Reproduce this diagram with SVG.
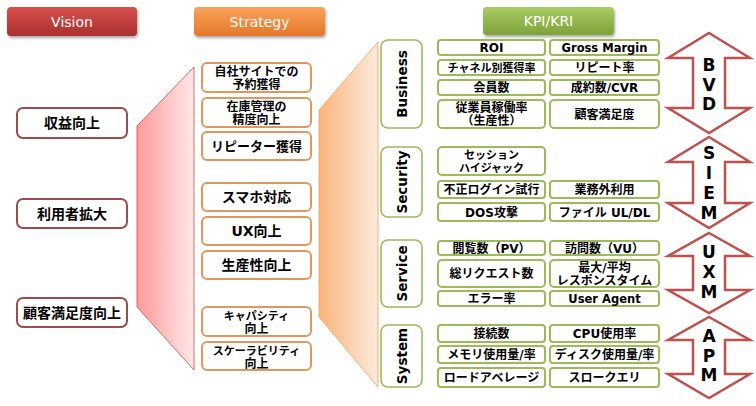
<svg xmlns="http://www.w3.org/2000/svg" width="756" height="406" viewBox="0 0 756 406">
<defs>
<linearGradient id="gRed" x1="0" y1="0" x2="0" y2="1"><stop offset="0" stop-color="#d9504c"/><stop offset="1" stop-color="#a8302e"/></linearGradient>
<linearGradient id="gOrg" x1="0" y1="0" x2="0" y2="1"><stop offset="0" stop-color="#fba25a"/><stop offset="1" stop-color="#e4782a"/></linearGradient>
<linearGradient id="gGrn" x1="0" y1="0" x2="0" y2="1"><stop offset="0" stop-color="#a9cc62"/><stop offset="1" stop-color="#7ea23a"/></linearGradient>
<linearGradient id="bandRed" x1="0" y1="0" x2="1" y2="0"><stop offset="0" stop-color="#ff9a9a"/><stop offset="1" stop-color="#ffe8e8"/></linearGradient>
<linearGradient id="bandOrg" x1="0" y1="0" x2="1" y2="0"><stop offset="0" stop-color="#fbb57c"/><stop offset="1" stop-color="#fdeadb"/></linearGradient>
<filter id="sh" x="-10%" y="-20%" width="120%" height="160%"><feDropShadow dx="1" dy="2" stdDeviation="1.5" flood-color="#000" flood-opacity="0.35"/></filter>
</defs>
<style>
.hdr{font-family:"DejaVu Sans","Liberation Sans",sans-serif;font-size:14px;fill:#fff;text-anchor:middle}
.vb{fill:#fff;stroke:#9e4b4b;stroke-width:2}
.sb{fill:#fff;stroke:#e3975e;stroke-width:2}
.kb{fill:#fff;stroke:#9bbb59;stroke-width:2}
.cb{fill:#fff;stroke:#9bbb59;stroke-width:1.6}
.jp{font-family:"Noto Sans CJK JP",sans-serif;font-weight:bold;fill:#000;text-anchor:middle}
.lt{font-family:"DejaVu Sans","Noto Sans CJK JP",sans-serif;font-weight:bold;fill:#000;text-anchor:middle}
.t14{font-size:14px}.t13{font-size:13px}.t12{font-size:12px}.t11{font-size:11px}
.cat{font-family:"DejaVu Sans",sans-serif;font-weight:bold;font-size:13.5px;fill:#000;text-anchor:middle}
.arr{fill:#fff;stroke:#c0504d;stroke-width:2.5;stroke-linejoin:miter}
.al{font-family:"DejaVu Sans",sans-serif;font-weight:bold;font-size:17px;fill:#000;text-anchor:middle}
</style>
<rect width="756" height="406" fill="#fff"/>

<g id="bands">
<polygon points="137,126 194,67 194,370 137,307" fill="url(#bandRed)" stroke="#c0504d" stroke-width="0.8"/>
<polygon points="319,110 378,42 378,387 319,317" fill="url(#bandOrg)" stroke="#f0a060" stroke-width="0.8"/>
</g>

<g id="hdr-vision"><rect x="7" y="7" width="130" height="29" rx="4" fill="url(#gRed)" filter="url(#sh)"/><text class="hdr" x="72" y="26.5">Vision</text></g>
<g id="hdr-strategy"><rect x="194" y="7" width="131" height="29" rx="4" fill="url(#gOrg)" filter="url(#sh)"/><text class="hdr" x="259.5" y="26.5">Strategy</text></g>
<g id="hdr-kpi"><rect x="483" y="7" width="131" height="28" rx="4" fill="url(#gGrn)" filter="url(#sh)"/><text class="hdr" x="548.5" y="26">KPI/KRI</text></g>

<g id="v1"><rect class="vb" x="17" y="108" width="110" height="30" rx="6"/><text class="jp t14" x="72" y="128">収益向上</text></g>
<g id="v2"><rect class="vb" x="17" y="199" width="110" height="29" rx="6"/><text class="jp t14" x="72" y="218.5">利用者拡大</text></g>
<g id="v3"><rect class="vb" x="17" y="298" width="110" height="29" rx="6"/><text class="jp t14" x="72" y="317.5">顧客満足度向上</text></g>

<g id="s1"><rect class="sb" x="202" y="63" width="109" height="29" rx="5"/><text class="jp t12" x="256.5" y="76"><tspan x="256.5">自社サイトでの</tspan><tspan x="256.5" dy="13">予約獲得</tspan></text></g>
<g id="s2"><rect class="sb" x="202" y="98" width="109" height="29" rx="5"/><text class="jp t12" x="256.5" y="111"><tspan x="256.5">在庫管理の</tspan><tspan x="256.5" dy="13">精度向上</tspan></text></g>
<g id="s3"><rect class="sb" x="202" y="132" width="109" height="28" rx="5"/><text class="jp t13" x="256.5" y="151">リピーター獲得</text></g>
<g id="s4"><rect class="sb" x="202" y="183" width="109" height="28" rx="5"/><text class="jp t14" x="256.5" y="202">スマホ対応</text></g>
<g id="s5"><rect class="sb" x="202" y="217" width="109" height="28" rx="5"/><text class="lt t14" x="256.5" y="236">UX向上</text></g>
<g id="s6"><rect class="sb" x="202" y="251" width="109" height="28" rx="5"/><text class="jp t14" x="256.5" y="270">生産性向上</text></g>
<g id="s7"><rect class="sb" x="202" y="307" width="109" height="29" rx="5"/><text class="jp t11" x="256.5" y="320"><tspan x="256.5">キャパシティ</tspan><tspan x="256.5" dy="13" style="font-size:12px">向上</tspan></text></g>
<g id="s8"><rect class="sb" x="202" y="342" width="109" height="28" rx="5"/><text class="jp t11" x="256.5" y="355"><tspan x="256.5">スケーラビリティ</tspan><tspan x="256.5" dy="13" style="font-size:12px">向上</tspan></text></g>

<g id="c-business"><rect class="cb" x="381" y="40" width="41" height="88" rx="7"/><text class="cat" transform="translate(406.5,84) rotate(-90)">Business</text></g>
<g id="c-security"><rect class="cb" x="381" y="147" width="41" height="70" rx="7"/><text class="cat" transform="translate(406.5,182) rotate(-90)">Security</text></g>
<g id="c-service"><rect class="cb" x="381" y="240" width="41" height="67" rx="7"/><text class="cat" transform="translate(406.5,273.5) rotate(-90)">Service</text></g>
<g id="c-system"><rect class="cb" x="381" y="325" width="41" height="62" rx="7"/><text class="cat" transform="translate(406.5,356) rotate(-90)">System</text></g>

<g id="k-roi"><rect class="kb" x="438" y="40" width="107" height="15" rx="3"/><text class="lt t12" x="491.5" y="52">ROI</text></g>
<g id="k-gm"><rect class="kb" x="550" y="40" width="109" height="15" rx="3"/><text class="lt" style="font-size:11.5px" x="604.5" y="52">Gross Margin</text></g>
<g id="k-ch"><rect class="kb" x="438" y="60" width="107" height="15" rx="3"/><text class="jp t11" x="491.5" y="71.5">チャネル別獲得率</text></g>
<g id="k-rp"><rect class="kb" x="550" y="60" width="109" height="15" rx="3"/><text class="jp t12" x="604.5" y="72">リピート率</text></g>
<g id="k-mem"><rect class="kb" x="438" y="80" width="107" height="15" rx="3"/><text class="jp t12" x="491.5" y="92">会員数</text></g>
<g id="k-cvr"><rect class="kb" x="550" y="80" width="109" height="15" rx="3"/><text class="lt t12" x="604.5" y="92">成約数/CVR</text></g>
<g id="k-emp"><rect class="kb" x="438" y="100" width="107" height="28" rx="4"/><text class="jp t12" x="491.5" y="112"><tspan x="491.5">従業員稼働率</tspan><tspan x="491.5" dy="13">（生産性）</tspan></text></g>
<g id="k-cs"><rect class="kb" x="550" y="100" width="109" height="28" rx="4"/><text class="jp t12" x="604.5" y="118.5">顧客満足度</text></g>

<g id="k-sess"><rect class="kb" x="438" y="147" width="107" height="28" rx="4"/><text class="jp t11" x="491.5" y="159"><tspan x="491.5">セッション</tspan><tspan x="491.5" dy="13">ハイジャック</tspan></text></g>
<g id="k-login"><rect class="kb" x="438" y="181" width="107" height="17" rx="3"/><text class="jp t12" x="491.5" y="194">不正ログイン試行</text></g>
<g id="k-out"><rect class="kb" x="550" y="181" width="109" height="17" rx="3"/><text class="jp t12" x="604.5" y="194">業務外利用</text></g>
<g id="k-dos"><rect class="kb" x="438" y="203" width="107" height="18" rx="3"/><text class="lt t12" x="491.5" y="216.5">DOS攻撃</text></g>
<g id="k-file"><rect class="kb" x="550" y="203" width="109" height="18" rx="3"/><text class="lt t12" x="604.5" y="216.5">ファイル UL/DL</text></g>

<g id="k-pv"><rect class="kb" x="438" y="241" width="107" height="14" rx="3"/><text class="lt t12" x="491.5" y="252.5">閲覧数（PV）</text></g>
<g id="k-vu"><rect class="kb" x="550" y="241" width="109" height="14" rx="3"/><text class="lt t12" x="604.5" y="252.5">訪問数（VU）</text></g>
<g id="k-req"><rect class="kb" x="438" y="260" width="107" height="27" rx="4"/><text class="jp t12" x="491.5" y="278">総リクエスト数</text></g>
<g id="k-rt"><rect class="kb" x="550" y="260" width="109" height="27" rx="4"/><text class="lt t12" x="604.5" y="272"><tspan x="604.5">最大/平均</tspan><tspan x="604.5" dy="13">レスポンスタイム</tspan></text></g>
<g id="k-err"><rect class="kb" x="438" y="291" width="107" height="15" rx="3"/><text class="jp t12" x="491.5" y="303">エラー率</text></g>
<g id="k-ua"><rect class="kb" x="550" y="291" width="109" height="15" rx="3"/><text class="lt" style="font-size:11.5px" x="604.5" y="303">User Agent</text></g>

<g id="k-conn"><rect class="kb" x="438" y="325" width="107" height="17" rx="3"/><text class="jp t12" x="491.5" y="338">接続数</text></g>
<g id="k-cpu"><rect class="kb" x="550" y="325" width="109" height="17" rx="3"/><text class="lt t12" x="604.5" y="338">CPU使用率</text></g>
<g id="k-memu"><rect class="kb" x="438" y="346" width="107" height="17" rx="3"/><text class="lt t12" x="491.5" y="359">メモリ使用量/率</text></g>
<g id="k-disk"><rect class="kb" x="550" y="346" width="109" height="17" rx="3"/><text class="lt t12" x="604.5" y="359">ディスク使用量/率</text></g>
<g id="k-load"><rect class="kb" x="438" y="368" width="107" height="19" rx="3"/><text class="jp t12" x="491.5" y="382">ロードアベレージ</text></g>
<g id="k-slow"><rect class="kb" x="550" y="368" width="109" height="19" rx="3"/><text class="jp t12" x="604.5" y="382">スロークエリ</text></g>

<g id="a-bvd"><polygon class="arr" points="709,33 750,58 725,58 725,108 750,108 709,133 668,108 693,108 693,58 668,58"/><text class="al" x="709" y="71"><tspan x="709">B</tspan><tspan x="709" dy="19.5">V</tspan><tspan x="709" dy="19.5">D</tspan></text></g>
<g id="a-siem"><polygon class="arr" points="709,137 750,162 725,162 725,203 750,203 709,228 668,203 693,203 693,162 668,162"/><text class="al" x="709" y="159"><tspan x="709">S</tspan><tspan x="709" dy="20">I</tspan><tspan x="709" dy="20">E</tspan><tspan x="709" dy="20">M</tspan></text></g>
<g id="a-uxm"><polygon class="arr" points="709,233 750,256 725,256 725,290 750,290 709,313 668,290 693,290 693,256 668,256"/><text class="al" x="709" y="258"><tspan x="709">U</tspan><tspan x="709" dy="20">X</tspan><tspan x="709" dy="20">M</tspan></text></g>
<g id="a-apm"><polygon class="arr" points="709,317 750,340 725,340 725,374 750,374 709,398 668,374 693,374 693,340 668,340"/><text class="al" x="709" y="342"><tspan x="709">A</tspan><tspan x="709" dy="20">P</tspan><tspan x="709" dy="19">M</tspan></text></g>
</svg>
